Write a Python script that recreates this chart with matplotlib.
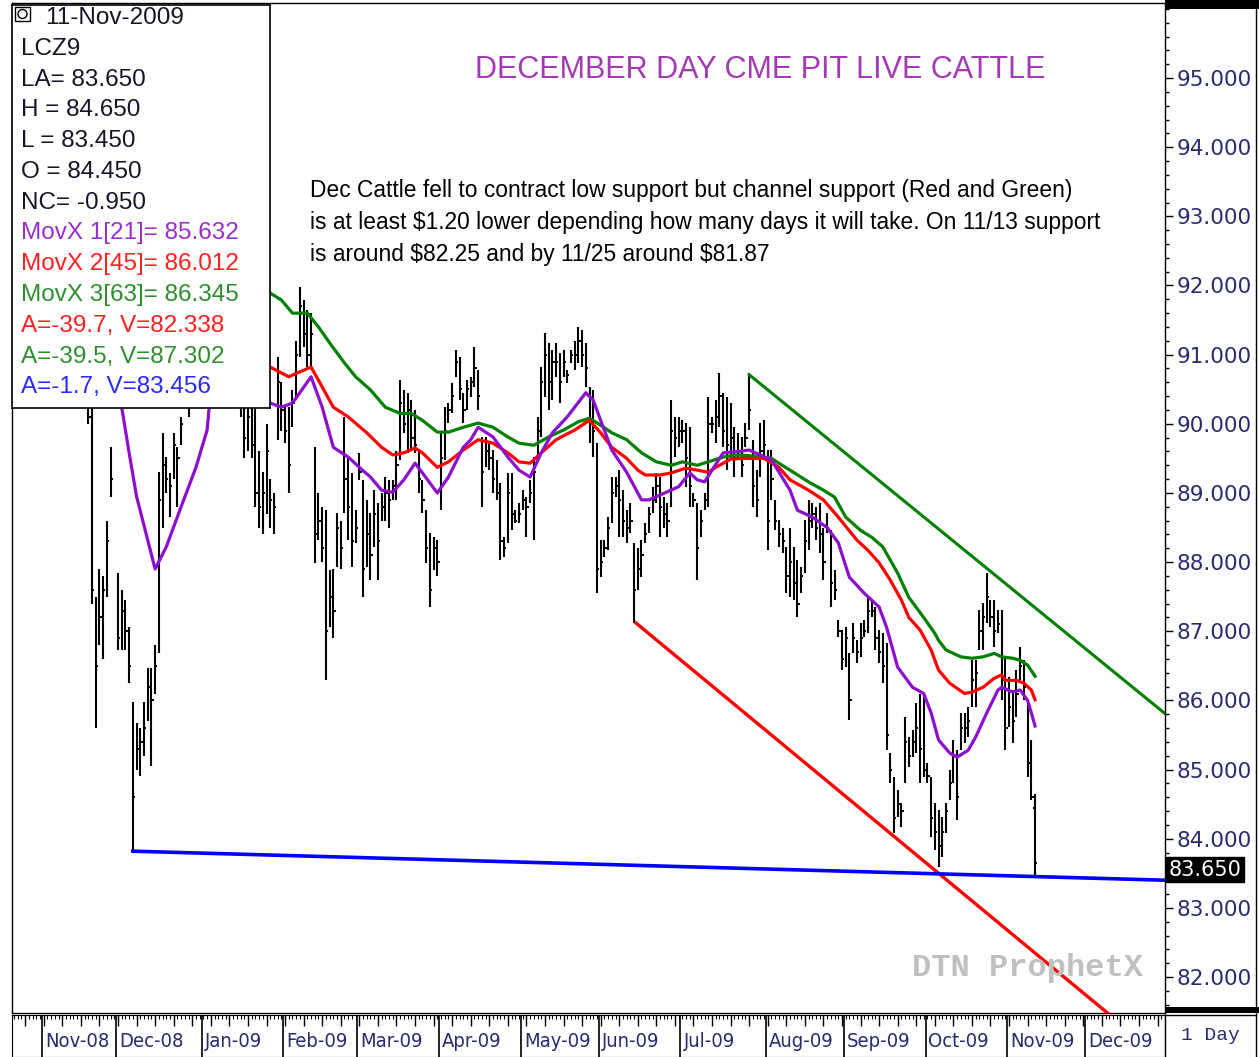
import numpy as np
import pandas as pd
import matplotlib
matplotlib.use("Agg")
import matplotlib.pyplot as plt
from matplotlib.patches import Rectangle, Circle
from matplotlib.lines import Line2D

# weekday calendar for the x axis, bar number = position in this list
days = pd.bdate_range("2008-10-20", "2009-12-31")

first_bar = 22
# daily high / low / close of LCZ9, None = no session
highs = [90.6, 90.4, 87.5, 87.9, 87.8, 88.6, 89.66, None, 87.84, 87.6,
         87.45, 87.06, 85.98, 85.67, 85.6, 85.98, 86.47, 86.47, 86.8, 89.3,
         89.87, 89.52, 89.29, 89.87, 89.66, 90.1, None, 90.8, 91.0, 91.2,
         91.3, None, 91.6, 91.5, 91.2, 91.0, 91.2, 91.4, 91.3, 90.9,
         91.0, 91.2, 90.8, 90.5, 90.7, 90.3, 89.6, 89.3, 90.0, 89.2,
         89.0, 90.97, 90.6, 90.24, 90.24, 90.49, 91.2, 91.98, 91.79, 91.64,
         91.6, 89.66, 89.0, 88.8, 88.75, 87.89, 87.9, 88.71, 88.6, 90.1,
         89.52, 89.29, 88.75, 89.58, 89.19, 88.9, 88.71, 89.04, 88.85, 89.0,
         89.23, 89.19, 89.19, 89.6, 90.63, 90.49, 90.45, 90.34, 90.2, 89.62,
         89.19, 88.75, 88.42, 88.36, 88.32, 89.87, 90.24, 90.3, 90.59, 91.07,
         90.97, 90.45, 90.63, 90.68, 91.11, 90.78, 89.81, 89.81, 89.72, 89.62,
         89.48, 89.14, 88.36, 89.29, 89.29, 88.75, 88.85, 89.04, 88.94, 89.19,
         89.52, 90.1, 90.82, 91.31, 91.17, 91.07, 91.17, 91.02, 91.07, 90.78,
         91.07, 91.2, 91.4, 91.36, 91.17, 90.53, 90.49, 89.72, 88.32, 88.32,
         88.65, 89.23, 89.23, 89.33, 89.04, 88.75, 88.85, 88.28, 88.2, 88.32,
         88.56, 88.8, 89.09, 89.29, 89.23, 88.94, 88.85, 90.34, 90.1, 90.1,
         90.05, 90.01, 89.95, 89.0, 88.85, 88.75, 89.0, 90.39, 90.1, 90.34,
         90.73, 90.45, 90.39, 90.3, 89.95, 89.87, 89.81, 90.01, 90.73, 89.77,
         89.33, 90.01, 90.05, 89.62, 89.62, 88.9, 88.61, 88.5, 88.22, 88.5,
         88.22, 88.03, 87.93, 88.61, 88.9, 88.85, 88.8, 88.85, 88.5, 88.71,
         88.46, 87.89, 87.16, 87.02, 87.06, 86.68, 87.12, 86.87, 87.12, 87.16,
         87.49, 87.45, 87.35, 87.02, 86.97, 86.83, 85.24, 84.89, 84.7, 84.52,
         85.76, 85.47, 85.57, 85.96, 86.1, 86.1, 85.09, 84.89, 84.52, 84.41,
         84.31, 84.52, 84.99, 85.43, 85.28, 85.82, 85.82, 85.9, 86.58, 86.58,
         87.31, 87.41, 87.84, 87.45, 87.45, 87.31, 87.31, 86.63, 86.34, 86.15,
         86.44, 86.77, 86.58, 86.0, 85.43, 84.65]
lows = [90.0, 87.4, 85.6, 86.8, 86.6, 87.5, 88.94, None, 86.73, 86.73,
        86.73, 86.25, 83.81, 85.0, 84.9, 85.2, 85.7, 85.05, 86.1, 86.68,
        88.5, 89.0, 88.65, 89.2, 88.8, 89.7, None, 90.1, 90.3, 90.5,
        90.6, None, 90.8, 90.7, 90.4, 90.3, 90.5, 90.7, 90.5, 90.3,
        90.4, 90.1, 89.5, 89.6, 89.5, 88.8, 88.5, 88.4, 88.7, 88.5,
        88.4, 89.77, 89.9, 89.72, 89.0, 89.95, 90.34, 90.97, 91.11, 90.82,
        90.82, 87.99, 88.32, 88.0, 86.29, 87.06, 86.9, 87.93, 87.9, 88.71,
        88.32, 87.93, 88.28, 89.19, 87.49, 87.93, 87.74, 88.22, 87.74, 88.6,
        88.6, 88.5, 88.9, 88.9, 89.48, 89.87, 89.58, 89.62, 89.58, 89.0,
        88.71, 87.98, 87.35, 87.89, 87.8, 88.75, 89.48, 90.01, 90.15, 90.68,
        90.34, 90.01, 90.2, 90.39, 90.53, 90.2, 88.8, 89.37, 89.33, 89.0,
        88.9, 88.03, 88.07, 88.28, 88.46, 88.57, 88.57, 88.75, 88.36, 88.85,
        88.32, 89.52, 89.81, 90.39, 90.2, 90.34, 90.68, 90.3, 90.68, 90.59,
        90.88, 90.78, 90.88, 90.82, 90.53, 89.72, 89.52, 87.55, 87.78, 88.07,
        88.17, 88.56, 88.94, 88.36, 88.36, 88.28, 88.42, 87.12, 87.6, 87.78,
        88.28, 88.42, 88.71, 88.85, 88.36, 88.5, 88.36, 88.8, 89.52, 89.66,
        89.72, 89.09, 88.8, 88.8, 87.74, 88.36, 88.75, 88.8, 89.87, 89.72,
        89.95, 89.66, 89.33, 89.48, 89.23, 89.48, 89.23, 89.66, 89.91, 88.8,
        88.65, 89.23, 89.52, 88.17, 88.9, 88.46, 88.22, 88.13, 87.55, 87.49,
        87.45, 87.2, 87.55, 87.84, 88.17, 88.5, 88.32, 88.13, 87.74, 88.42,
        87.35, 87.45, 86.92, 86.44, 86.48, 85.72, 86.68, 86.54, 86.63, 86.92,
        86.97, 87.2, 86.73, 86.54, 86.25, 85.28, 84.8, 84.08, 84.31, 84.17,
        84.8, 85.04, 85.18, 85.24, 84.8, 84.89, 84.8, 84.02, 83.84, 83.59,
        83.73, 84.08, 84.56, 84.8, 84.27, 85.28, 85.38, 85.47, 85.9, 85.9,
        86.73, 86.73, 87.12, 87.06, 86.77, 86.97, 86.0, 85.28, 85.62, 85.38,
        85.76, 86.29, 86.0, 84.89, 84.56, 83.45]
closes = [90.1, 87.6, 86.5, 87.2, 87.6, 88.3, 89.2, None, 86.9, 87.3,
          87.0, 86.5, 84.6, 85.3, 85.4, 85.6, 86.2, 86.0, 86.5, 88.9,
          89.4, 89.2, 89.1, 89.7, 89.5, 90.0, None, 90.5, 90.7, 90.9,
          91.0, None, 91.2, 90.9, 90.6, 90.8, 91.0, 91.0, 90.7, 90.5,
          90.8, 90.4, 89.8, 90.1, 89.7, 89.0, 88.8, 89.0, 89.6, 88.9,
          88.8, 90.6, 90.2, 89.9, 89.4, 90.3, 91.0, 91.7, 91.3, 91.0,
          91.3, 88.4, 88.6, 88.2, 87.0, 87.5, 87.3, 88.5, 88.2, 89.2,
          88.8, 88.3, 88.5, 89.3, 87.9, 88.4, 88.1, 88.7, 88.3, 88.8,
          89.0, 88.9, 89.1, 89.4, 90.3, 90.0, 90.2, 89.8, 89.7, 89.2,
          88.9, 88.2, 87.6, 88.2, 88.0, 89.5, 89.9, 90.2, 90.4, 90.9,
          90.5, 90.2, 90.5, 90.6, 90.8, 90.4, 89.3, 89.6, 89.5, 89.2,
          89.0, 88.3, 88.2, 89.0, 88.7, 88.6, 88.7, 88.9, 88.8, 89.0,
          89.3, 89.9, 90.6, 91.0, 90.6, 90.9, 90.9, 90.6, 90.9, 90.7,
          91.0, 91.0, 91.2, 91.0, 90.8, 90.0, 89.9, 87.9, 88.0, 88.2,
          88.5, 89.0, 89.1, 88.9, 88.6, 88.5, 88.6, 87.6, 87.9, 88.1,
          88.4, 88.7, 88.9, 89.1, 88.8, 88.7, 88.6, 89.9, 89.8, 89.9,
          89.9, 89.5, 89.1, 88.9, 88.2, 88.6, 88.9, 90.0, 90.0, 90.1,
          90.4, 89.9, 89.7, 89.8, 89.5, 89.6, 89.4, 89.8, 90.2, 89.1,
          88.9, 89.6, 89.7, 88.6, 89.2, 88.6, 88.4, 88.3, 87.8, 88.0,
          87.7, 87.4, 87.8, 88.3, 88.6, 88.7, 88.5, 88.4, 88.0, 88.5,
          87.7, 87.6, 87.0, 86.6, 86.9, 86.0, 86.9, 86.7, 86.9, 87.0,
          87.3, 87.3, 86.9, 86.7, 86.5, 85.5, 85.0, 84.3, 84.5, 84.4,
          85.4, 85.2, 85.4, 85.6, 85.3, 85.0, 84.9, 84.3, 84.1, 83.9,
          84.1, 84.4, 84.8, 85.2, 84.6, 85.6, 85.6, 85.7, 86.3, 86.4,
          87.0, 87.2, 87.5, 87.2, 87.0, 87.1, 86.3, 85.6, 85.9, 85.7,
          86.1, 86.5, 86.2, 85.1, 84.6, 83.65]
last_open = 84.45

# moving averages (bar number, value)
ma21_day = [24, 28, 31, 33, 35, 38, 40, 43, 47, 51, 54, 55, 60, 66, 71, 74, 77, 82, 85, 88,
            92, 95, 98, 101, 104, 107, 110, 112, 116, 119, 123, 125, 127, 131, 135, 138, 141,
            144, 147, 151, 156, 158, 160, 163, 167, 171, 173, 176, 181, 184, 186, 188, 190,
            193, 197, 200, 206, 211, 213, 217, 221, 224, 227, 231, 235, 237, 240, 244, 247,
            249, 251, 254, 256, 259, 261, 264, 267, 268, 271, 273, 275, 276, 277]
ma21_val = [91.6, 91.0, 90.24, 89.58, 88.95, 88.32, 87.90, 88.22, 88.80, 89.37, 89.91, 90.5,
            90.8, 90.5, 90.30, 90.24, 90.30, 90.68, 90.24, 89.66, 89.52, 89.37, 89.23, 89.04,
            89.01, 89.19, 89.43, 89.29, 89.0, 89.23, 89.66, 89.77, 89.95, 89.81, 89.52, 89.33,
            89.23, 89.58, 89.87, 90.1, 90.45, 90.34, 90.05, 89.62, 89.3, 88.9, 88.9, 88.97,
            89.09, 89.29, 89.19, 89.16, 89.33, 89.58, 89.6, 89.62, 89.48, 89.04, 88.75, 88.65,
            88.5, 88.28, 87.78, 87.55, 87.35, 87.06, 86.48, 86.19, 86.1, 85.82, 85.43, 85.24,
            85.18, 85.28, 85.47, 85.82, 86.15, 86.19, 86.12, 86.15, 86.0, 85.82, 85.63]
ma45_day = [40, 55, 65, 71, 76, 78, 82, 84, 88, 92, 97, 101, 104, 107, 110, 112, 116, 119,
            123, 127, 131, 135, 138, 141, 144, 148, 153, 157, 160, 163, 167, 170, 172, 176,
            179, 183, 189, 191, 195, 199, 204, 208, 211, 216, 220, 224, 229, 232, 235, 238,
            241, 243, 246, 249, 251, 254, 258, 260, 263, 266, 268, 269, 272, 274, 276, 277]
ma45_val = [91.2, 91.3, 91.0, 90.82, 90.68, 90.73, 90.82, 90.63, 90.24, 90.1, 89.87, 89.66,
            89.55, 89.58, 89.65, 89.58, 89.37, 89.45, 89.62, 89.77, 89.72, 89.58, 89.45, 89.43,
            89.58, 89.77, 89.91, 90.05, 89.87, 89.66, 89.5, 89.33, 89.26, 89.26, 89.29, 89.36,
            89.3, 89.37, 89.49, 89.5, 89.5, 89.37, 89.19, 89.04, 88.9, 88.65, 88.32, 88.17,
            87.99, 87.74, 87.45, 87.2, 87.02, 86.73, 86.44, 86.25, 86.1, 86.12, 86.19, 86.32,
            86.37, 86.29, 86.29, 86.25, 86.15, 86.01]
ma63_day = [40, 60, 71, 74, 77, 81, 84, 87, 91, 94, 98, 102, 106, 109, 112, 116, 119, 123,
            127, 131, 135, 138, 142, 146, 150, 154, 157, 160, 163, 167, 171, 175, 179, 182,
            186, 189, 193, 197, 202, 206, 208, 211, 216, 220, 223, 226, 230, 233, 236, 240,
            243, 247, 250, 251, 253, 257, 260, 263, 266, 268, 271, 273, 275, 277]
ma63_val = [92.6, 92.2, 91.89, 91.79, 91.6, 91.6, 91.4, 91.17, 90.88, 90.68, 90.49, 90.24,
            90.15, 90.15, 90.05, 89.88, 89.88, 89.95, 90.01, 89.95, 89.81, 89.72, 89.69, 89.81,
            89.91, 90.03, 90.08, 89.98, 89.87, 89.77, 89.58, 89.45, 89.4, 89.45, 89.4, 89.45,
            89.52, 89.55, 89.53, 89.5, 89.43, 89.33, 89.16, 89.04, 88.94, 88.65, 88.46, 88.36,
            88.22, 87.84, 87.49, 87.2, 86.97, 86.87, 86.73, 86.63, 86.61, 86.63, 86.68, 86.63,
            86.61, 86.58, 86.51, 86.35]

# hand drawn trend lines (bar number, price)
red_line_day = [169.5, 297.2]
red_line_val = [87.12, 81.45]
green_line_day = [200, 312]
green_line_val = [90.71, 85.81]
blue_line_day = [34, 312]
blue_line_val = [83.82, 83.40]

legend_lines = [("LCZ9", "#15152a"),
                ("LA= %.3f" % closes[-1], "#15152a"),
                ("H = %.3f" % highs[-1], "#15152a"),
                ("L = %.3f" % lows[-1], "#15152a"),
                ("O = %.3f" % last_open, "#15152a"),
                ("NC= %.3f" % (closes[-1] - closes[-2]), "#15152a"),
                ("MovX 1[21]= 85.632", "#9a2ecf"),
                ("MovX 2[45]= 86.012", "#ff2020"),
                ("MovX 3[63]= 86.345", "#2f8f2f"),
                ("A=-39.7, V=82.338", "#ff2020"),
                ("A=-39.5, V=87.302", "#2f8f2f"),
                ("A=-1.7, V=83.456", "#2a2aff")]

note = ["Dec Cattle fell to contract low support but channel support (Red and Green)",
        "is at least $1.20 lower depending how many days it will take. On 11/13 support",
        "is around $82.25 and by 11/25 around $81.87"]

W, H = 1259, 1057
def fx(px):
    return px / W
def fy(py):
    return 1 - py / H

fig = plt.figure(figsize=(W / 100, H / 100), dpi=100)
fig.patch.set_facecolor("white")

ax = fig.add_axes([fx(12), fy(1013), fx(1165) - fx(12), fy(3) - fy(1013)])
ax.set_xlim(1.45, 312)
ax.set_ylim(81.48, 96.085)

n = len(highs)
idx = np.arange(first_bar, first_bar + n)
hi = np.array([np.nan if v is None else v for v in highs])
lo = np.array([np.nan if v is None else v for v in lows])
cl = np.array([np.nan if v is None else v for v in closes])
ok = ~np.isnan(hi)
ax.vlines(idx[ok], lo[ok], hi[ok], color="black", lw=1.5, zorder=2)
ax.hlines(cl[ok], idx[ok], idx[ok] + 0.6, color="black", lw=1.4, zorder=2)
ax.hlines(last_open, idx[-1] - 0.6, idx[-1], color="black", lw=1.4, zorder=2)

ax.plot(ma63_day, ma63_val, color="#008000", lw=2.3, zorder=3)
ax.plot(ma45_day, ma45_val, color="#ff0000", lw=2.3, zorder=3)
ax.plot(ma21_day, ma21_val, color="#8c0fd0", lw=2.3, zorder=3)

ax.plot(green_line_day, green_line_val, color="#008000", lw=2.2, zorder=4)
ax.plot(red_line_day, red_line_val, color="#ff0000", lw=2.4, zorder=4)
ax.plot(blue_line_day, blue_line_val, color="#0000ff", lw=2.6, zorder=4)

# right price scale
ax.yaxis.tick_right()
ax.set_yticks(np.arange(82, 96, 1))
ax.set_yticks(np.arange(81.6, 96.01, 0.2), minor=True)
ax.set_yticklabels(["%.3f" % v for v in np.arange(82, 96, 1)])
ax.tick_params(axis="y", which="major", direction="out", length=6, width=1,
               labelsize=15.5, labelcolor="#2a2a6e", pad=2.5)
ax.tick_params(axis="y", which="minor", direction="out", length=3, width=1)
for lab in ax.get_yticklabels():
    lab.set_family("DejaVu Sans")
ax.set_xticks([])
for sp in ax.spines.values():
    sp.set_color("black")
    sp.set_linewidth(1)

ax.annotate("%.3f" % closes[-1], xy=(1.0, closes[-1]), xycoords=("axes fraction", "data"),
            xytext=(2.5, -5), textcoords="offset points", va="center", ha="left",
            fontsize=15, family="DejaVu Sans", color="white", annotation_clip=False,
            bbox=dict(boxstyle="square,pad=0.12", fc="black", ec="black"), zorder=6)

fig.text(fx(760), fy(70), "DECEMBER DAY CME PIT LIVE CATTLE", ha="center", va="center",
         fontsize=22, color="#a23ab4", family="Liberation Sans")
for k, line in enumerate(note):
    fig.text(fx(310), fy(191 + 31.5 * k), line, ha="left", va="center", fontsize=16.4,
             family="Liberation Sans", color="black", parse_math=False)
fig.text(fx(1027), fy(968), "DTN ProphetX", ha="center", va="center", fontsize=23,
         family="Liberation Mono", weight="bold", color="#c0c0c0")

# info box in the top left corner
leg = fig.add_axes([fx(12), fy(408), fx(270) - fx(12), fy(5) - fy(408)], zorder=5)
leg.set_xlim(12, 270)
leg.set_ylim(408, 5)
leg.set_xticks([])
leg.set_yticks([])
leg.set_facecolor("white")
for sp in leg.spines.values():
    sp.set_linewidth(1.2)
leg.add_patch(Rectangle((15, 7), 15, 14, fill=False, ec="black", lw=1))
leg.add_patch(Circle((22.5, 14), 4.5, fill=False, ec="black", lw=1))
leg.text(45, 18, "11-Nov-2009", ha="left", va="center", fontsize=17.5,
         family="Liberation Sans", color="#15152a")
for k, (txt, col) in enumerate(legend_lines):
    leg.text(21, 48.7 + 30.8 * k, txt, ha="left", va="center", fontsize=17.5,
             family="Liberation Sans", color=col)

# date strip under the chart
strip = fig.add_axes([fx(12), fy(1057), fx(1165) - fx(12), fy(1015) - fy(1057)])
strip.set_xlim(1.45, 312)
strip.set_ylim(0, 1)
strip.set_xticks([])
strip.set_yticks([])
pos = np.arange(len(days))
strip.vlines(pos, 0.9, 1, color="black", lw=0.8)
mondays = pos[days.weekday == 0]
strip.vlines(mondays, 0.75, 1, color="black", lw=1)
starts = [i for i in range(1, len(days)) if days[i].month != days[i - 1].month]
for i in starts:
    strip.vlines(i - 0.5, 0, 1, color="black", lw=1.2)
    strip.text(i + 0.3, 0.36, days[i].strftime("%b-%y"), ha="left", va="center",
               fontsize=14.5, family="DejaVu Sans", stretch="condensed",
               color="#2a2a6e", clip_on=True)

# right hand frame pieces
fig.add_artist(Rectangle((fx(1165), fy(9)), fx(94), 9 / H, transform=fig.transFigure,
                         fc="black", ec="none"))
fig.add_artist(Rectangle((fx(1165), fy(1013)), fx(94), 6 / H, transform=fig.transFigure,
                         fc="black", ec="none"))
fig.add_artist(Line2D([fx(1256), fx(1256)], [fy(0), fy(1057)], color="black", lw=1))
fig.add_artist(Line2D([fx(1165), fx(1256)], [fy(1015), fy(1015)], color="black", lw=1))
fig.add_artist(Line2D([fx(1165), fx(1165)], [fy(1015), fy(1057)], color="black", lw=1))
fig.text(fx(1210), fy(1036), "1 Day", ha="center", va="center", fontsize=14,
         family="Liberation Mono", color="#2a2a6e")

fig.savefig("out.png", dpi=100)
